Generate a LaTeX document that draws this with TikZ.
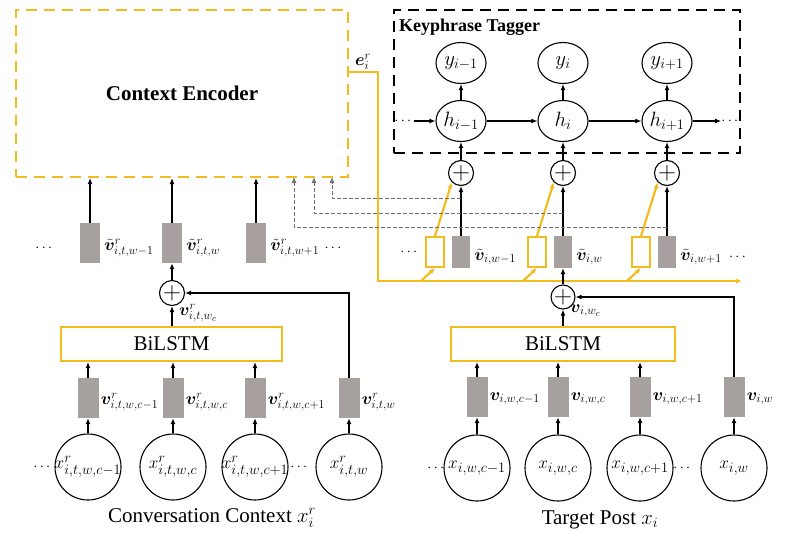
\documentclass[tikz,border=0pt]{standalone}
\usepackage{amsmath,bm}
\usepackage{fontspec}
\setmainfont{Liberation Serif}
\usetikzlibrary{calc,arrows.meta,shapes.geometric,positioning}
\definecolor{gold}{RGB}{242,187,30}
\definecolor{vecgray}{RGB}{166,161,158}
\definecolor{skipgray}{RGB}{112,112,112}
\tikzset {>={Latex[length=6pt,width=5pt]}}
\newcommand*{\fs}[1]{\fontsize{#1}{#1}\selectfont}
\tikzset{
  encbox/.style={draw=gold,line width=2pt,dash pattern=on 11pt off 7pt,inner sep=0pt},
  tagbox/.style={draw,line width=2pt,dash pattern=on 11pt off 7pt,inner sep=0pt},
  vecbox/.style={fill=vecgray,minimum width=20pt,minimum height=40pt,inner sep=0pt},
  gatebox/.style={draw=gold,line width=2pt,fill=white,minimum width=18pt,minimum height=30pt,inner sep=0pt},
  tok/.style={circle,draw,line width=1.1pt,minimum size=66pt,inner sep=-3pt,font=\fs{19}},
  cell/.style={ellipse,draw,line width=1.1pt,minimum width=50pt,minimum height=41pt,inner sep=0pt,font=\fs{21}},
  addnode/.style={circle,draw,line width=1.1pt,minimum size=25pt,inner sep=0pt,font=\fs{26}},
  lstm/.style={draw=gold,line width=2pt,minimum height=34pt,inner sep=0pt,font=\fs{21}},
  lab/.style={anchor=west,inner sep=1pt,font=\fs{18}},
  ellip/.style={inner sep=0pt,font=\fs{14}},
  arr/.style={->,line width=1.3pt},
  yarr/.style={->,gold,line width=2.2pt},
  skiparr/.style={->,skipgray,line width=1pt,dash pattern=on 4pt off 2pt}
}

\begin{document}
\begin{tikzpicture}[x=1pt,y=-1pt]
\useasboundingbox (0,0) rectangle (791,546);
\node[encbox,minimum width=332pt,minimum height=167pt,font=\bfseries\fs{21}] (enc) at (182,93.5) {Context Encoder};
\node[tagbox,minimum width=346pt,minimum height=143pt] (tag) at (567,81.5) {};
\node[anchor=base west,inner sep=0pt,font=\bfseries\fs{18}] (tagname) at (399,31) {Keyphrase Tagger};
\coordinate (eo) at ($(enc.north east)+(0,63)$);
\coordinate (eend) at (742,281);
\draw[yarr,line width=2pt] (eo) -- ++(29,0) |- (eend);
\node[lab,anchor=south] (el) at ($(eo)+(14,-1)$) {$\bm e_i^r$};
\foreach \n/\x/\s/\w/\yy/\xx in {1/461/{i-1}/{w-1}/198/332,2/563/i/w/213/314,3/667/{i+1}/{w+1}/227/294} {
  \node[cell] (y\n) at (\x,63) {$y_{\s}$};
  \node[cell] (h\n) at (\x,121) {$h_{\s}$};
  \node[addnode] (a\n) at (\x,173) {$+$};
  \node[vecbox,minimum width=18pt,minimum height=32pt] (tv\n) at (\x,252) {};
  \node[gatebox] (g\n) at (\x-26,252) {};
  \node[lab] (tvl\n) at ($(tv\n.east)+(3,5)$) {$\tilde{\bm v}_{i,\w}$};
  \draw[arr] (h\n) -- (y\n);
  \draw[arr] (a\n) -- (h\n);
  \draw[arr] (tv\n) -- (a\n);
  \draw[yarr] (g\n.north) -- (a\n.south west);
  \coordinate (gin\n) at ($(g\n.south)+(-14,13)$);
  \draw[yarr] (gin\n) -- (g\n.south);
  \coordinate (ss\n) at (\x,\yy);
  \coordinate (se\n) at (\xx,177);
  \draw[skiparr] (ss\n) -| (se\n);
}
\node[ellip] (hl) at (404,121) {$\cdots$};
\node[ellip] (hr) at (731,121) {$\cdots$};
\draw[arr] (hl) -- (h1);
\draw[arr] (h1) -- (h2);
\draw[arr] (h2) -- (h3);
\draw[arr] (h3) -- (hr);
\node[ellip] (gl) at (410,252) {$\cdots$};
\node[ellip,anchor=west] (gr) at ($(tvl3.east)+(6,0)$) {$\cdots$};
\foreach \n/\x/\w in {1/90/{w-1},2/172/w,3/256/{w+1}} {
  \node[vecbox] (cv\n) at (\x,243) {};
  \node[lab] (cvl\n) at ($(cv\n.east)+(3,5)$) {$\tilde{\bm v}^r_{i,t,\w}$};
  \draw[arr] (cv\n) -- (cv\n |- enc.south);
}
\node[ellip] (cvd) at (45,248) {$\cdots$};
\node[ellip,anchor=west] (cvd2) at ($(cvl3.east)+(4,0)$) {$\cdots$};
\node[addnode] (cp) at (172,293) {$+$};
\draw[arr] (cp) -- (cv2);
\node[lstm,minimum width=221pt] (cl) at (171.5,344) {BiLSTM};
\draw[arr] (cl.north -| cp) -- (cp);
\node[lab] (cpl) at (178,313) {$\bm v^r_{i,t,w_c}$};
\foreach \n/\x/\w in {1/88/{w,c-1},2/173/{w,c},3/255/{w,c+1},4/349/w} {
  \node[vecbox,minimum width=21pt] (cw\n) at (\x,398) {};
  \node[tok] (cx\n) at (\x,467) {$x^r_{i,t,\w}$};
  \node[lab] (cwl\n) at ($(cw\n.east)+(1,4)$) {$\bm v^r_{i,t,\w}$};
  \draw[arr] (cx\n) -- (cw\n);
}
\foreach \n in {1,2,3}
  \draw[arr] (cw\n) -- (cw\n |- cl.south);
\draw[arr] (cw4.north) |- (cp.east);
\node[ellip] (cxl) at (43,467) {$\cdots$};
\node[ellip] (cxm) at (300,467) {$\cdots$};
\node[font=\fs{21}] (ccap) at (212,518) {Conversation Context $x_i^r$};
\node[addnode,minimum size=24pt] (tp) at (563,297) {$+$};
\draw[arr] (tp) -- (tv2);
\node[lstm,minimum width=224pt] (tl) at (563,344) {BiLSTM};
\draw[arr] (tl.north -| tp) -- (tp);
\node[lab] (tpl) at (569,311) {$\bm v_{i,w_c}$};
\foreach \n/\x/\w in {1/477/{w,c-1},2/558/{w,c},3/640/{w,c+1},4/734/w} {
  \node[vecbox,minimum width=21pt] (tw\n) at (\x,397) {};
  \node[tok] (tx\n) at (\x,468) {$x_{i,\w}$};
  \node[lab] (twl\n) at ($(tw\n.east)+(1,2)$) {$\bm v_{i,\w}$};
  \draw[arr] (tx\n) -- (tw\n);
}
\foreach \n in {1,2,3}
  \draw[arr] (tw\n) -- (tw\n |- tl.south);
\draw[arr] (tw4.north) |- (tp.east);
\node[ellip] (txl) at (437,468) {$\cdots$};
\node[ellip] (txm) at (683,468) {$\cdots$};
\node[font=\fs{21}] (tcap) at (600,520) {Target Post $x_i$};
\end{tikzpicture}
\end{document}
